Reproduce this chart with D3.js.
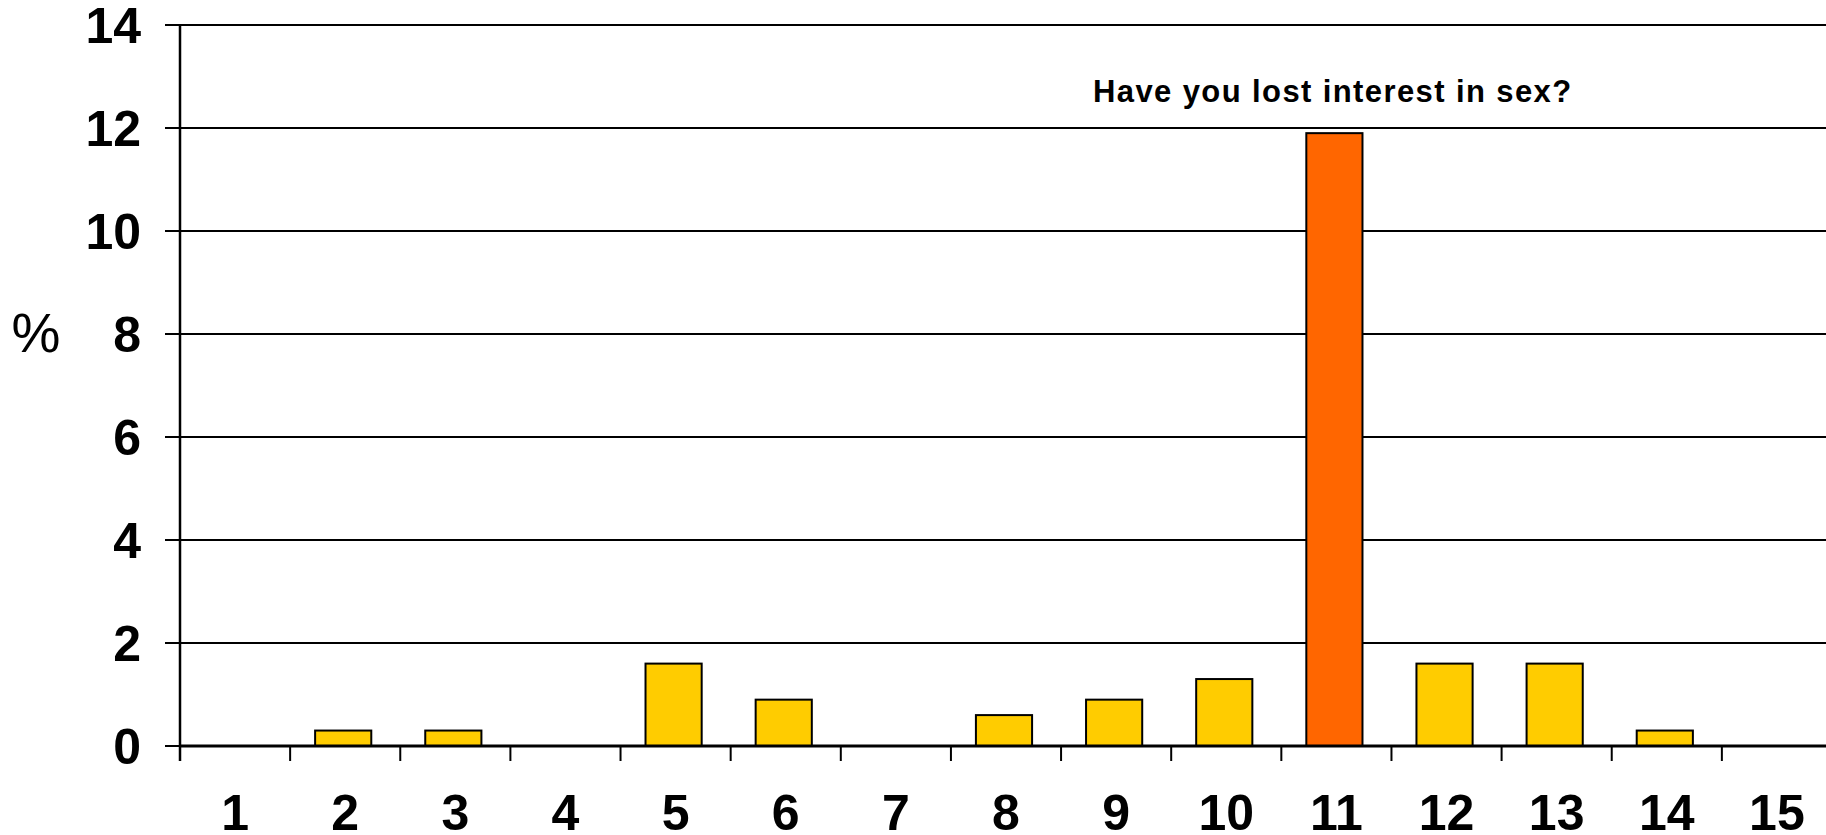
<!DOCTYPE html>
<html>
<head>
<meta charset="utf-8">
<script src="https://cdn.jsdelivr.net/npm/d3@7"></script>
<style>
  body { margin: 0; background: #fff; overflow: hidden; }
  svg { display: block; }
</style>
</head>
<body>
<svg id="chart" width="1826" height="835"></svg>
<script>
"use strict";

// chart data
let categories = ["1", "2", "3", "4", "5", "6", "7", "8", "9", "10", "11", "12", "13", "14", "15"];
let values = [0, 0.3, 0.3, 0, 1.6, 0.9, 0, 0.6, 0.9, 1.3, 11.9, 1.6, 1.6, 0.3, 0];
let highlight = "11";
let yTicks = [0, 2, 4, 6, 8, 10, 12, 14];
let title = "Have you lost interest in sex?";

let svg = d3.select("#chart");

let plotLeft = 180, plotRight = 1832, plotTop = 25, plotBottom = 746;

let x = d3.scaleBand()
    .domain(categories)
    .range([plotLeft, plotRight])
    .paddingInner(0.49)
    .paddingOuter(0.245);

let y = d3.scaleLinear()
    .domain([0, 14])
    .range([plotBottom, plotTop]);

// horizontal gridlines, with the little tick stubs to the left of the axis
svg.append("g")
    .selectAll("line")
    .data(yTicks)
    .enter()
    .append("line")
    .attr("x1", plotLeft - 15)
    .attr("x2", 1826)
    .attr("y1", d => y(d))
    .attr("y2", d => y(d))
    .style("stroke", "#000")
    .style("stroke-width", 2);

// y tick labels
svg.append("g")
    .selectAll("text")
    .data(yTicks)
    .enter()
    .append("text")
    .attr("x", 141)
    .attr("y", d => y(d) + 18)
    .style("text-anchor", "end")
    .style("font-family", "Liberation Sans, Arial, sans-serif")
    .style("font-weight", "bold")
    .style("font-size", "50px")
    .text(d => d);

// bars (sit a touch left of the band centre in the original)
svg.append("g")
    .selectAll("rect")
    .data(values)
    .enter()
    .append("rect")
    .attr("x", (d, i) => x(categories[i]) - 2)
    .attr("width", x.bandwidth())
    .attr("y", d => y(d))
    .attr("height", d => y(0) - y(d))
    .style("fill", (d, i) => categories[i] === highlight ? "#FF6600" : "#FFCC00")
    .style("stroke", "#000")
    .style("stroke-width", 2);

// category separators below the baseline
let step = x.step();
let sep = categories.map((c, i) => plotLeft + i * step);
svg.append("g")
    .selectAll("line")
    .data(sep)
    .enter()
    .append("line")
    .attr("x1", d => d)
    .attr("x2", d => d)
    .attr("y1", plotBottom)
    .attr("y2", plotBottom + 15)
    .style("stroke", "#000")
    .style("stroke-width", 2);

// axes lines
svg.append("line")
    .attr("x1", plotLeft).attr("x2", plotLeft)
    .attr("y1", plotTop).attr("y2", plotBottom + 15)
    .style("stroke", "#000")
    .style("stroke-width", 2.5);

svg.append("line")
    .attr("x1", plotLeft).attr("x2", 1826)
    .attr("y1", plotBottom).attr("y2", plotBottom)
    .style("stroke", "#000")
    .style("stroke-width", 3);

// x tick labels
svg.append("g")
    .selectAll("text")
    .data(categories)
    .enter()
    .append("text")
    .attr("x", d => x(d) + x.bandwidth() / 2)
    .attr("y", 830)
    .style("text-anchor", "middle")
    .style("font-family", "Liberation Sans, Arial, sans-serif")
    .style("font-weight", "bold")
    .style("font-size", "50px")
    .text(d => d);

// y axis title
svg.append("text")
    .attr("x", 36)
    .attr("y", 352)
    .style("text-anchor", "middle")
    .style("font-family", "Liberation Sans, Arial, sans-serif")
    .style("font-size", "55px")
    .text("%");

// chart title
svg.append("text")
    .attr("x", 1093)
    .attr("y", 102)
    .style("font-family", "Liberation Sans, Arial, sans-serif")
    .style("font-weight", "bold")
    .style("font-size", "31px")
    .style("letter-spacing", "1.4px")
    .text(title);
</script>
</body>
</html>
